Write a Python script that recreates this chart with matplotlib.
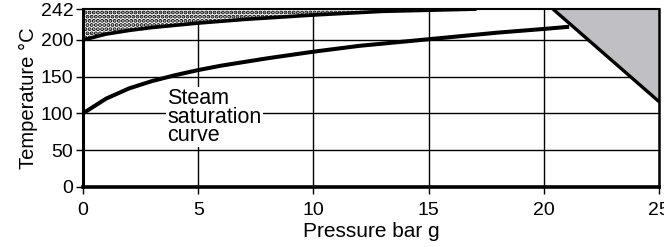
import numpy as np
import matplotlib.pyplot as plt

plt.rcParams['font.family'] = ['Liberation Sans', 'DejaVu Sans']
plt.rcParams['hatch.linewidth'] = 2.0

# Steam saturation curve (pressure bar g, temperature C)
sat_p = [0, 1, 2, 3, 4, 5, 6, 7, 8, 10, 12, 14, 16, 18, 20, 21.1]
sat_t = [100, 120, 134, 144, 152, 159, 165, 170, 175, 184, 192, 198, 204, 210, 215, 218]

# Upper limit curve bounding the dotted region
up_p = [0, 0.5, 1, 2, 3, 5, 7, 10, 13, 17]
up_t = [200, 204, 208, 213, 217, 223, 228, 234, 239, 242]

# Grey triangle corners
tri_p = [20.4, 25, 25]
tri_t = [242, 242, 116]

x_ticks = [0, 5, 10, 15, 20, 25]
y_ticks = [0, 50, 100, 150, 200, 242]

fig = plt.figure(figsize=(6.64, 2.47), dpi=100)
ax = fig.add_axes([0.125, 0.244, 0.8675, 0.719])
ax.set_xlim(0, 25)
ax.set_ylim(0, 242)

# gridlines
for x in [5, 10, 15, 20]:
    ax.axvline(x, color='black', lw=1.0, zorder=1)
for y in [50, 100, 150, 200]:
    ax.axhline(y, color='black', lw=1.0, zorder=1)

# dotted region
ax.fill_between(up_p, up_t, 242, facecolor='white', edgecolor='black',
                hatch='....', lw=0, zorder=2)
ax.plot(up_p, up_t, color='black', lw=2.6, zorder=3)

# grey triangle
ax.fill(tri_p, tri_t, facecolor='#c0bfc3', edgecolor='none', zorder=2)
ax.plot(tri_p[0::2], tri_t[0::2], color='black', lw=2.4, zorder=3)

# saturation curve
ax.plot(sat_p, sat_t, color='black', lw=2.9, zorder=3, solid_capstyle='butt')

ax.text(3.65, 95, 'Steam\nsaturation\ncurve', fontsize=15.5, va='center', ha='left',
        linespacing=0.84, zorder=4,
        bbox=dict(facecolor='white', edgecolor='none', pad=1))

ax.set_xticks(x_ticks)
ax.set_yticks(y_ticks)
ax.tick_params(axis='both', direction='out', length=5, width=1, labelsize=14, pad=2)
ax.tick_params(axis='x', pad=6)
ax.set_xlabel('Pressure bar g', fontsize=15, labelpad=2)
ax.set_ylabel('Temperature °C', fontsize=14.5, labelpad=2)

ax.spines['left'].set_linewidth(2.2)
ax.spines['bottom'].set_linewidth(2.6)
ax.spines['right'].set_linewidth(1.8)
ax.spines['top'].set_linewidth(1.5)
for s in ax.spines.values():
    s.set_zorder(5)

fig.savefig('out.png', dpi=100)
